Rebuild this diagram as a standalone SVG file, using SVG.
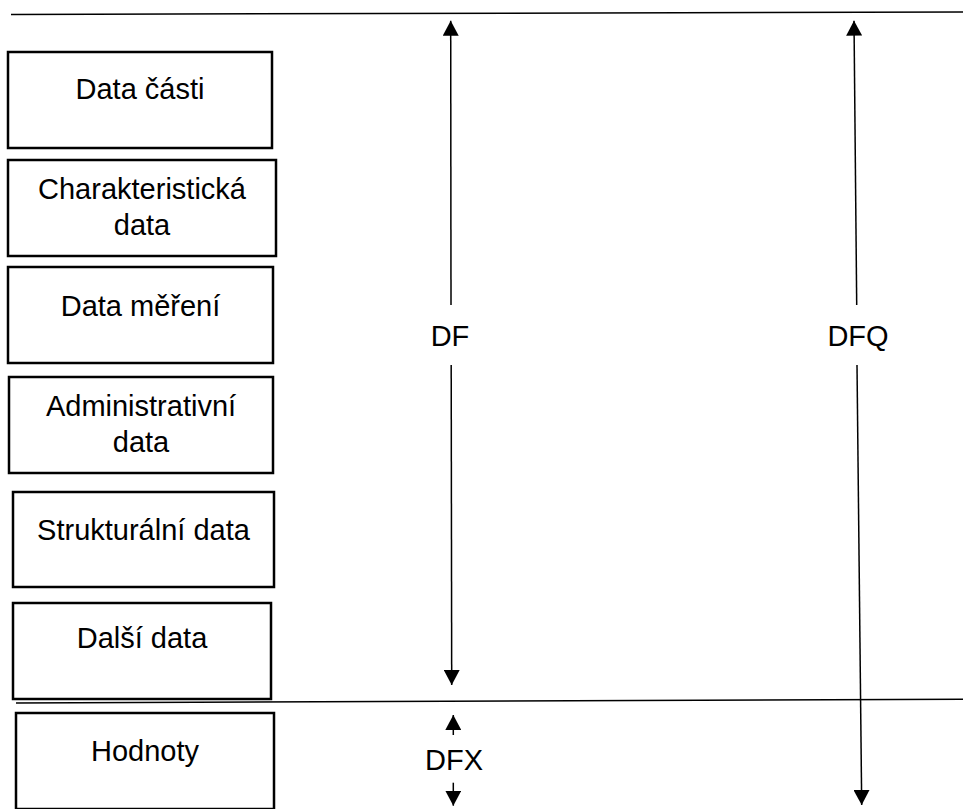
<svg xmlns="http://www.w3.org/2000/svg" width="963" height="809" viewBox="0 0 963 809">
<style>
.box{fill:#fff;stroke:#000;stroke-width:2.5}
.t{font-family:"Liberation Sans",Arial,sans-serif;font-size:29px;fill:#000;text-anchor:middle}
.ln{stroke:#000;stroke-width:1.5;fill:none}
.ar{stroke:#000;stroke-width:1.5;fill:none;marker-end:url(#ah)}
</style>
<defs>
<marker id="ah" viewBox="0 0 15 16" refX="15" refY="8" markerWidth="15" markerHeight="16" markerUnits="userSpaceOnUse" orient="auto">
<path d="M0,0 L15,8 L0,16 z" fill="#000"/>
</marker>
</defs>
<rect width="963" height="809" fill="#fff"/>
<g id="separators">
<line class="ln" x1="11" y1="14.5" x2="963" y2="12"/>
<line class="ln" x1="16" y1="703" x2="963" y2="699.3"/>
</g>
<g id="n-data-casti"><rect class="box" x="8" y="52" width="264" height="96"/><text class="t" x="140" y="99">Data části</text></g>
<g id="n-charakteristicka"><rect class="box" x="8" y="160" width="268" height="96"/><text class="t" x="142" y="199">Charakteristická</text><text class="t" x="142" y="235">data</text></g>
<g id="n-data-mereni"><rect class="box" x="8" y="267" width="265" height="96"/><text class="t" x="140.5" y="316">Data měření</text></g>
<g id="n-administrativni"><rect class="box" x="9" y="377" width="264" height="96"/><text class="t" x="141" y="416">Administrativní</text><text class="t" x="141" y="452">data</text></g>
<g id="n-strukturalni"><rect class="box" x="13" y="492" width="261" height="95"/><text class="t" x="143.5" y="540">Strukturální data</text></g>
<g id="n-dalsi"><rect class="box" x="13" y="603" width="258" height="96"/><text class="t" x="142" y="648">Další data</text></g>
<g id="n-hodnoty"><rect class="box" x="16" y="713" width="258" height="96"/><text class="t" x="145" y="761">Hodnoty</text></g>
<g id="connectors">
<line class="ar" x1="451" y1="305" x2="450.7" y2="20.7"/>
<line class="ar" x1="451.2" y1="365" x2="451.7" y2="685"/>
<line class="ar" x1="856.7" y1="305" x2="854" y2="20.7"/>
<line class="ar" x1="857" y1="365" x2="861.7" y2="805"/>
<line class="ar" x1="453.3" y1="735" x2="453.3" y2="715"/>
<line class="ar" x1="453.3" y1="782.7" x2="453.3" y2="805.7"/>
</g>
<g id="labels">
<text class="t" x="450" y="346">DF</text>
<text class="t" x="858" y="346">DFQ</text>
<text class="t" x="454" y="770">DFX</text>
</g>
</svg>
